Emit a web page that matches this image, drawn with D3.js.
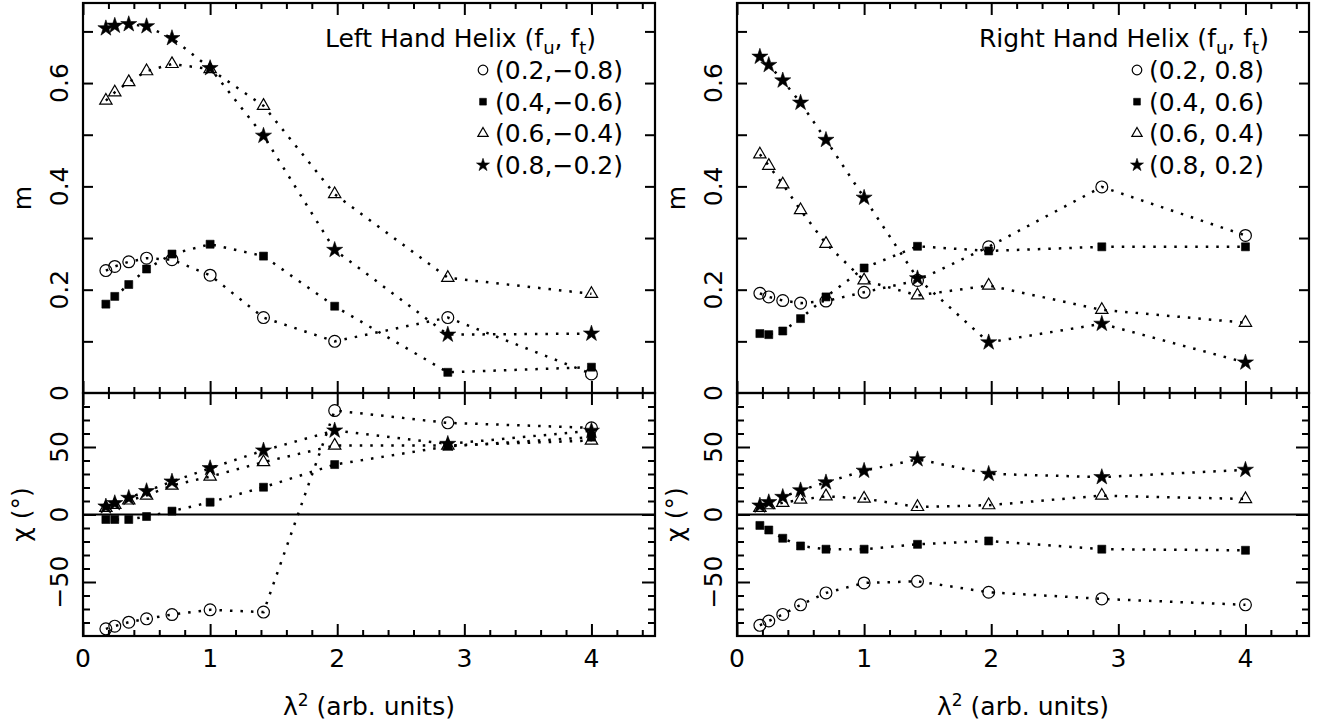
<!DOCTYPE html>
<html><head><meta charset="utf-8">
<script src="https://cdn.jsdelivr.net/npm/d3@7"></script>
<style>
body{margin:0;background:#fff}
svg text{font-family:"DejaVu Sans",sans-serif;fill:#000}
</style>
</head><body>
<svg id="chart" width="1333" height="726"></svg>
<script>
// ---------- data ----------
const lambda2 = [0.18, 0.25, 0.36, 0.5, 0.7, 1.0, 1.42, 1.98, 2.87, 4.0];

// Left hand helix: m
const mLeftCircle   = [0.237, 0.245, 0.254, 0.261, 0.258, 0.228, 0.146, 0.100, 0.146, 0.037];
const mLeftSquare   = [0.172, 0.187, 0.210, 0.240, 0.269, 0.288, 0.265, 0.168, 0.040, 0.050];
const mLeftTriangle = [0.566, 0.582, 0.602, 0.623, 0.637, 0.627, 0.556, 0.385, 0.223, 0.192];
const mLeftStar     = [0.706, 0.711, 0.714, 0.710, 0.687, 0.629, 0.498, 0.277, 0.113, 0.115];
// Left hand helix: chi (deg)
const chiLeftCircle   = [-84.7, -82.7, -79.8, -77.3, -74.1, -70.6, -72.3, 77.0, 67.9, 64.2];
const chiLeftSquare   = [-3.7, -3.7, -3.7, -1.5, 2.5, 9.1, 20.2, 37.0, 50.5, 57.3];
const chiLeftTriangle = [4.9, 7.2, 10.4, 14.1, 21.5, 28.1, 38.8, 51.1, 51.1, 54.8];
const chiLeftStar     = [5.9, 8.4, 12.3, 17.3, 24.4, 34.3, 47.4, 62.2, 52.3, 62.0];

// Right hand helix: m
const mRightCircle   = [0.193, 0.186, 0.179, 0.174, 0.178, 0.195, 0.218, 0.283, 0.399, 0.305];
const mRightSquare   = [0.115, 0.113, 0.120, 0.144, 0.186, 0.242, 0.284, 0.275, 0.283, 0.283];
const mRightTriangle = [0.462, 0.440, 0.404, 0.354, 0.289, 0.218, 0.189, 0.208, 0.161, 0.136];
const mRightStar     = [0.651, 0.635, 0.605, 0.562, 0.490, 0.378, 0.222, 0.098, 0.134, 0.059];
// Right hand helix: chi (deg)
const chiRightCircle   = [-82.1, -78.9, -74.0, -66.9, -58.1, -50.7, -49.5, -57.6, -62.5, -66.9];
const chiRightSquare   = [-8.1, -11.5, -17.6, -23.3, -25.7, -25.7, -22.1, -19.6, -25.7, -26.5];
const chiRightTriangle = [4.9, 6.9, 8.6, 11.0, 13.5, 11.8, 5.6, 6.9, 14.0, 11.5];
const chiRightStar     = [6.6, 9.1, 13.0, 17.9, 23.8, 32.4, 40.9, 30.1, 27.7, 33.1];

const symbolKinds = ["circle", "square", "triangle", "star"];
const legendLeft  = ["(0.2,\u22120.8)", "(0.4,\u22120.6)", "(0.6,\u22120.4)", "(0.8,\u22120.2)"];
const legendRight = ["(0.2, 0.8)", "(0.4, 0.6)", "(0.6, 0.4)", "(0.8, 0.2)"];
const titleLeft = "Left Hand Helix";
const titleRight = "Right Hand Helix";

const xMajorTicks = [0, 1, 2, 3, 4];
const xTickLabels = ["0", "1", "2", "3", "4"];
const mTicks = [0.1, 0.2, 0.3, 0.4, 0.5, 0.6, 0.7];
const mLabelValues = [0, 0.2, 0.4, 0.6];
const mLabels = ["0", "0.2", "0.4", "0.6"];
const chiMajorTicks = [-50, 0, 50];
const chiLabels = ["\u221250", "0", "50"];

// ---------- layout ----------
const svg = d3.select("#chart");
const W = 572;
const yTop = 3, yMid = 393, yBot = 636;
const fs = 25;

const panels = [
  {x0: 83, title: titleLeft, legend: legendLeft,
   m: [mLeftCircle, mLeftSquare, mLeftTriangle, mLeftStar],
   chi: [chiLeftCircle, chiLeftSquare, chiLeftTriangle, chiLeftStar]},
  {x0: 737, title: titleRight, legend: legendRight,
   m: [mRightCircle, mRightSquare, mRightTriangle, mRightStar],
   chi: [chiRightCircle, chiRightSquare, chiRightTriangle, chiRightStar]}
];

const dataSym = {
  circle: d3.symbol().type(d3.symbolCircle).size(110),
  square: d3.symbol().type(d3.symbolSquare).size(64),
  triangle: d3.symbol().type(d3.symbolTriangle).size(66),
  star: d3.symbol().type(d3.symbolStar).size(80)
};
const legendSym = {
  circle: d3.symbol().type(d3.symbolCircle).size(72),
  square: d3.symbol().type(d3.symbolSquare).size(46),
  triangle: d3.symbol().type(d3.symbolTriangle).size(46),
  star: d3.symbol().type(d3.symbolStar).size(52)
};
const symFilled = {circle: false, square: true, triangle: false, star: true};

function drawMarker(g, gen, kind, x, y) {
  g.append("path")
    .attr("d", gen[kind]())
    .attr("transform", `translate(${x},${y})`)
    .attr("fill", symFilled[kind] ? "#000" : "none")
    .attr("stroke", "#000")
    .attr("stroke-width", symFilled[kind] ? 0.6 : 1.2);
}

const xMinor = d3.range(1, 23).map(i => +(i * 0.2).toFixed(1)).filter(v => Math.abs(v - Math.round(v)) > 1e-6);
const chiMinor = d3.range(-80, 90, 10).filter(v => v % 50 !== 0);

function ticks(g, axisFn, scale, values, size, transform) {
  const ax = axisFn(scale).tickValues(values).tickSize(size).tickFormat("");
  const a = g.append("g").attr("transform", transform).call(ax);
  a.select(".domain").remove();
  a.selectAll("line").attr("stroke", "#000").attr("stroke-width", 2);
}

panels.forEach(p => {
  const g = svg.append("g");
  const x = d3.scaleLinear().domain([0, 4.5]).range([p.x0, p.x0 + W]);
  const yM = d3.scaleLinear().domain([0, 0.755]).range([yMid, yTop]);
  const yC = d3.scaleLinear().domain([-90, 90]).range([yBot, yMid]);

  // zero line
  g.append("line").attr("x1", x(0)).attr("x2", x(4.5))
    .attr("y1", yC(0)).attr("y2", yC(0))
    .attr("stroke", "#000").attr("stroke-width", 1.8);

  // x ticks, inward on every horizontal edge
  [yTop, yMid].forEach(yy => {
    ticks(g, d3.axisTop, x, xMajorTicks, -12, `translate(0,${yy})`);
    ticks(g, d3.axisTop, x, xMinor, -6, `translate(0,${yy})`);
  });
  [yMid, yBot].forEach(yy => {
    ticks(g, d3.axisBottom, x, xMajorTicks, -12, `translate(0,${yy})`);
    ticks(g, d3.axisBottom, x, xMinor, -6, `translate(0,${yy})`);
  });
  // m ticks
  ticks(g, d3.axisLeft, yM, mTicks, -10, `translate(${x(0)},0)`);
  ticks(g, d3.axisRight, yM, mTicks, -10, `translate(${x(4.5)},0)`);
  // chi ticks
  ticks(g, d3.axisLeft, yC, chiMajorTicks, -13, `translate(${x(0)},0)`);
  ticks(g, d3.axisLeft, yC, chiMinor, -7, `translate(${x(0)},0)`);
  ticks(g, d3.axisRight, yC, chiMajorTicks, -13, `translate(${x(4.5)},0)`);
  ticks(g, d3.axisRight, yC, chiMinor, -7, `translate(${x(4.5)},0)`);

  // frames
  [[yTop, yMid], [yMid, yBot]].forEach(([a, b]) => {
    g.append("rect").attr("x", x(0)).attr("y", a).attr("width", W).attr("height", b - a)
      .attr("fill", "none").attr("stroke", "#000").attr("stroke-width", 2.2);
  });

  // series lines and markers
  const line = (ys) => d3.line().x((d, i) => x(lambda2[i])).y(d => ys(d));
  [[p.m, yM], [p.chi, yC]].forEach(([sets, ys]) => {
    sets.forEach(vals => {
      g.append("path").datum(vals).attr("d", line(ys))
        .attr("fill", "none").attr("stroke", "#000")
        .attr("stroke-width", 2.5).attr("stroke-dasharray", "2.5,8");
    });
    sets.forEach((vals, k) => {
      vals.forEach((v, i) => drawMarker(g, dataSym, symbolKinds[k], x(lambda2[i]), ys(v)));
    });
  });

  // tick labels
  xMajorTicks.forEach((v, i) => {
    g.append("text").attr("x", x(v)).attr("y", 667).attr("text-anchor", "middle")
      .attr("font-size", fs).text(xTickLabels[i]);
  });
  mLabelValues.forEach((v, i) => {
    g.append("text").attr("transform", `translate(${x(0) - 15.5},${yM(v)}) rotate(-90)`)
      .attr("text-anchor", "middle").attr("font-size", fs).text(mLabels[i]);
  });
  chiMajorTicks.forEach((v, i) => {
    g.append("text").attr("transform", `translate(${x(0) - 15.5},${yC(v)}) rotate(-90)`)
      .attr("text-anchor", "middle").attr("font-size", fs).text(chiLabels[i]);
  });

  // axis titles
  g.append("text").attr("transform", `translate(${x(0) - 52},${(yTop + yMid) / 2}) rotate(-90)`)
    .attr("text-anchor", "middle").attr("font-size", fs).text("m");
  g.append("text").attr("transform", `translate(${x(0) - 53},${yC(0)}) rotate(-90)`)
    .attr("text-anchor", "middle").attr("font-size", fs).text("\u03c7 (\u00b0)");
  const xt = g.append("text").attr("x", x(2.25)).attr("y", 715).attr("text-anchor", "middle").attr("font-size", fs);
  xt.append("tspan").text("\u03bb");
  xt.append("tspan").attr("dy", -9).attr("font-size", 17).text("2");
  xt.append("tspan").attr("dy", 9).text(" (arb. units)");

  // title
  const t = g.append("text").attr("x", p.x0 + 242).attr("y", 47).attr("font-size", fs);
  t.append("tspan").text(p.title + " (f");
  t.append("tspan").attr("dy", 7).attr("font-size", 18).text("u");
  t.append("tspan").attr("dy", -7).text(", f");
  t.append("tspan").attr("dy", 7).attr("font-size", 18).text("t");
  t.append("tspan").attr("dy", -7).text(")");

  // legend
  p.legend.forEach((lab, k) => {
    const by = 79 + k * 31.7;
    drawMarker(g, legendSym, symbolKinds[k], p.x0 + 400, by - 9);
    g.append("text").attr("x", p.x0 + 412).attr("y", by).attr("font-size", fs).text(lab);
  });
});
</script>
</body></html>
